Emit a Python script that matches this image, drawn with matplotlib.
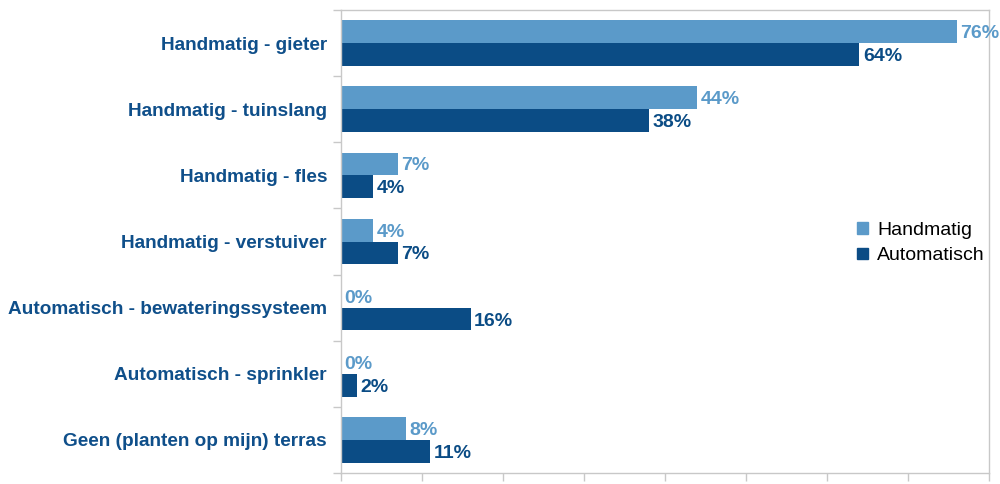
import numpy as np
import matplotlib
matplotlib.use("Agg")
import matplotlib.pyplot as plt
from matplotlib.patches import Patch

plt.rcParams['font.family'] = ['Liberation Sans', 'DejaVu Sans']

# Data
categorieen = [
    "Handmatig - gieter",
    "Handmatig - tuinslang",
    "Handmatig - fles",
    "Handmatig - verstuiver",
    "Automatisch - bewateringssysteem",
    "Automatisch - sprinkler",
    "Geen (planten op mijn) terras",
]
handmatig = [76, 44, 7, 4, 0, 0, 8]
automatisch = [64, 38, 4, 7, 16, 2, 11]

kleur_licht = "#5b9ac9"
kleur_donker = "#0b4c85"
kleur_tekst = "#0f4f8a"
kleur_as = "#c8c8c8"

fig = plt.figure(figsize=(10, 4.84), dpi=100)
ax = fig.add_axes([0.341, 0.0227, 0.648, 0.9566])

y = np.arange(len(categorieen))
h = 0.345
ax.barh(y - h / 2, handmatig, height=h, color=kleur_licht, label="Handmatig")
ax.barh(y + h / 2, automatisch, height=h, color=kleur_donker, label="Automatisch")

# waardelabels naast de balken
for i in range(len(categorieen)):
    ax.text(handmatig[i] + 0.45, y[i] - h / 2 + 0.03, f"{handmatig[i]}%", va="center", ha="left",
            color=kleur_licht, fontsize=14, fontweight="bold", clip_on=False)
    ax.text(automatisch[i] + 0.45, y[i] + h / 2 + 0.03, f"{automatisch[i]}%", va="center", ha="left",
            color=kleur_donker, fontsize=14, fontweight="bold", clip_on=False)

ax.set_xlim(0, 80)
ax.set_ylim(len(categorieen) - 0.5, -0.5)
ax.set_xticks(np.arange(0, 81, 10))
ax.set_xticklabels([])
ax.set_yticks(y)
ax.set_yticklabels(categorieen, fontsize=13.7, fontweight="bold", color=kleur_tekst)
ax.tick_params(axis="y", which="major", length=0, pad=10)
ax.set_yticks(np.arange(-0.5, len(categorieen)), minor=True)
ax.tick_params(axis="y", which="minor", length=6, color=kleur_as, width=1)
ax.tick_params(axis="x", length=6, color=kleur_as, width=1)
for s in ax.spines.values():
    s.set_color(kleur_as)
    s.set_linewidth(1)

handles = [Patch(color=kleur_licht, label="Handmatig"), Patch(color=kleur_donker, label="Automatisch")]
ax.legend(handles=handles, loc="center left", bbox_to_anchor=(0.77, 0.497), frameon=False,
          fontsize=14, handlelength=0.55, handleheight=0.55, handletextpad=0.45, labelspacing=0.45)

fig.savefig("out.png", dpi=100)
